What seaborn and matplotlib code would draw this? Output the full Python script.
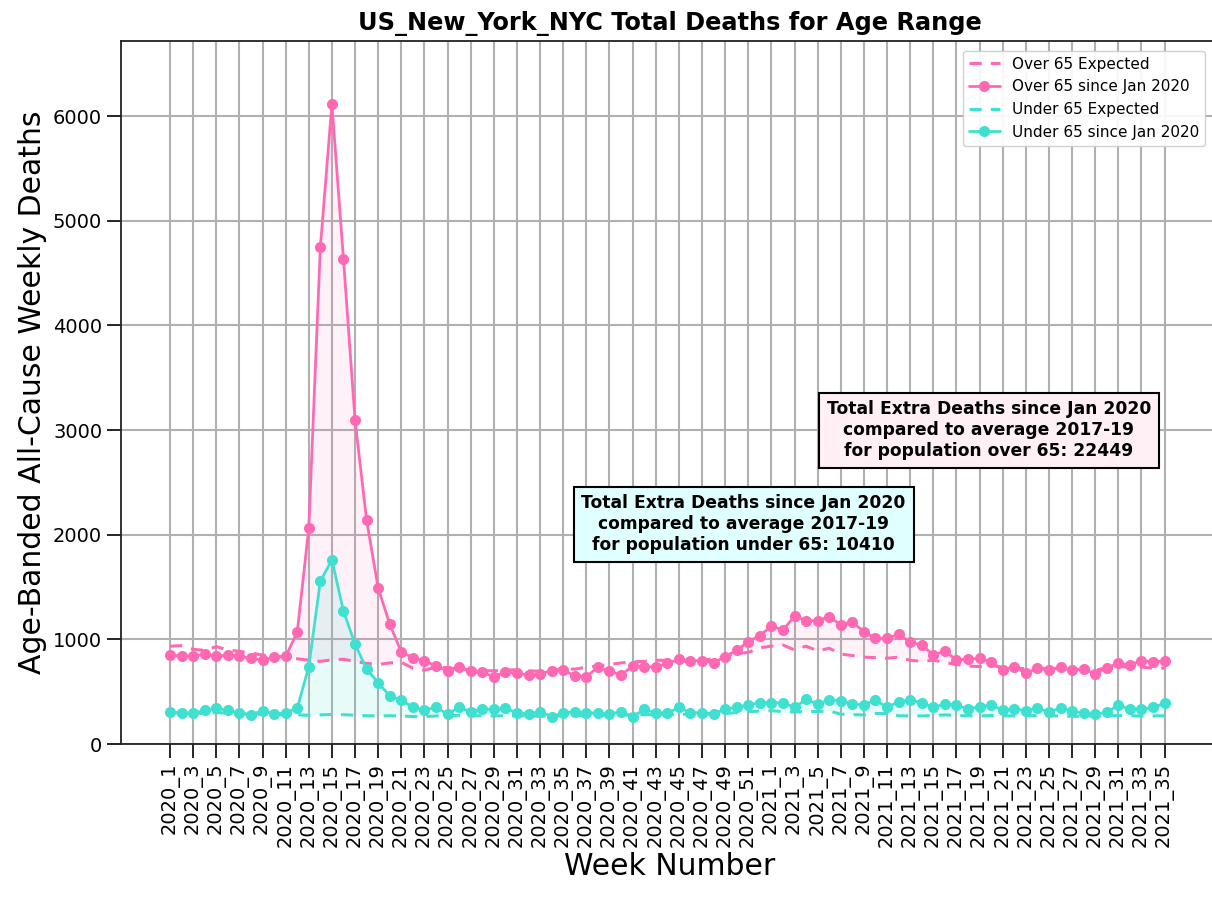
import numpy as np
import matplotlib
matplotlib.use('Agg')
import matplotlib.pyplot as plt
import seaborn as sns

# week labels: 2020 has 52 weeks here, then 2021 up to week 35
weeks = [f'2020_{w}' for w in range(1, 53)] + [f'2021_{w}' for w in range(1, 36)]

over65_actual = [
    850, 840, 837, 860, 837, 850, 840, 818, 800, 830, 837, 1067, 2064, 4748, 6115,
    4634, 3095, 2140, 1490, 1146, 879, 825, 793, 748, 697, 733, 697, 685, 643, 688,
    675, 659, 669, 701, 707, 653, 643, 733, 697, 659, 745, 739, 733, 770, 809,
    796, 796, 777, 834, 898, 977, 1035, 1127, 1089, 1223, 1178, 1178, 1216, 1140, 1166,
    1073, 1010, 1010, 1048, 975, 946, 850, 889, 803, 812, 818, 787, 707, 739, 675,
    723, 707, 739, 707, 717, 669, 729, 771, 755, 796, 787, 793]

over65_expected = [
    935, 940, 905, 895, 930, 900, 885, 870, 850, 840, 830, 815, 800, 790, 805,
    810, 790, 770, 760, 775, 780, 725, 705, 735, 730, 715, 710, 700, 700, 705,
    710, 700, 695, 705, 720, 715, 735, 745, 760, 775, 785, 790, 800, 800, 795,
    790, 800, 815, 840, 865, 875, 920, 935, 945, 900, 935, 890, 915, 860, 845,
    830, 825, 820, 830, 800, 790, 800, 780, 760, 745, 740, 755, 730, 725, 720,
    725, 720, 720, 715, 710, 705, 730, 740, 735, 735, 725, 725]

under65_actual = [
    309, 296, 295, 322, 341, 322, 296, 280, 320, 285, 301, 341, 739, 1557, 1758,
    1271, 955, 717, 586, 459, 420, 350, 325, 350, 287, 350, 309, 334, 331, 341,
    299, 287, 309, 261, 299, 309, 299, 293, 287, 309, 261, 331, 299, 293, 350,
    299, 299, 287, 334, 350, 373, 395, 395, 395, 350, 427, 382, 420, 414, 382,
    373, 420, 350, 404, 420, 395, 350, 382, 373, 334, 357, 373, 325, 334, 318,
    341, 309, 341, 318, 293, 287, 302, 373, 331, 334, 350, 389]

under65_expected = [
    300, 295, 290, 295, 300, 295, 290, 285, 285, 280, 280, 278, 275, 278, 282,
    280, 275, 270, 268, 270, 268, 262, 262, 268, 270, 275, 272, 270, 268, 272,
    270, 268, 265, 268, 270, 272, 270, 275, 272, 275, 278, 280, 282, 280, 285,
    283, 285, 288, 292, 300, 308, 315, 318, 310, 305, 312, 310, 315, 285, 280,
    278, 292, 290, 270, 268, 268, 272, 278, 272, 270, 268, 272, 270, 268, 270,
    272, 270, 268, 265, 265, 268, 270, 272, 270, 268, 268, 270]

extra_over65 = 22449
extra_under65 = 10410

PINK = '#ff69b4'
TEAL = '#40e0d0'

sns.set_style('ticks')
plt.rcParams['font.family'] = ['DejaVu Sans']
plt.rcParams.update({'text.color': 'black', 'axes.labelcolor': 'black',
                     'xtick.color': 'black', 'ytick.color': 'black'})

fig = plt.figure(figsize=(12.12, 8.99), dpi=100)
ax = fig.add_axes([0.0998, 0.1724, 0.905, 0.7816])

x = np.arange(len(weeks))
o_act, o_exp = np.array(over65_actual), np.array(over65_expected)
u_act, u_exp = np.array(under65_actual), np.array(under65_expected)

sns.lineplot(x=x, y=o_exp, ax=ax, color=PINK, linestyle=(0, (4, 3)), linewidth=2.2,
             label='Over 65 Expected')
sns.lineplot(x=x, y=o_act, ax=ax, color=PINK, marker='o', markersize=8,
             markeredgewidth=0, linewidth=2, label='Over 65 since Jan 2020')
sns.lineplot(x=x, y=u_exp, ax=ax, color=TEAL, linestyle=(0, (4, 3)), linewidth=2.2,
             label='Under 65 Expected')
sns.lineplot(x=x, y=u_act, ax=ax, color=TEAL, marker='o', markersize=8,
             markeredgewidth=0, linewidth=2, label='Under 65 since Jan 2020')

ax.fill_between(x, o_exp, o_act, where=o_act >= o_exp, interpolate=True,
                color=PINK, alpha=0.09, linewidth=0)
ax.fill_between(x, u_exp, u_act, where=u_act >= u_exp, interpolate=True,
                color=TEAL, alpha=0.12, linewidth=0)

ax.set_xticks(x[::2])
ax.set_xticklabels(weeks[::2], rotation=90)
ax.set_xlim(-4.24, 90.6)
ax.set_ylim(0, 6715)
ax.set_yticks(range(0, 7000, 1000))
ax.tick_params(axis='both', labelsize=14, length=10, width=1.2, color='black')
ax.grid(True, color='#b0b0b0', linewidth=1.5)
ax.set_axisbelow(True)
for s in ax.spines.values():
    s.set_linewidth(1.3)
    s.set_color('#222222')

ax.set_xlabel('Week Number', fontsize=21.5)
ax.set_ylabel('Age-Banded All-Cause Weekly Deaths', fontsize=21.5)
ax.set_title('US_New_York_NYC Total Deaths for Age Range', fontsize=17.3,
             fontweight='bold', pad=8)

ax.text(70.8, 3000,
        f'Total Extra Deaths since Jan 2020\ncompared to average 2017-19\n'
        f'for population over 65: {extra_over65}',
        ha='center', va='center', fontsize=12.3, fontweight='bold',
        bbox=dict(boxstyle='square,pad=0.45', facecolor='#fff0f5',
                  edgecolor='black', linewidth=1.5))
ax.text(49.6, 2100,
        f'Total Extra Deaths since Jan 2020\ncompared to average 2017-19\n'
        f'for population under 65: {extra_under65}',
        ha='center', va='center', fontsize=12.3, fontweight='bold',
        bbox=dict(boxstyle='square,pad=0.45', facecolor='#e0ffff',
                  edgecolor='black', linewidth=1.5))

ax.legend(loc='upper right', fontsize=11, framealpha=0.9, borderaxespad=0.6,
          bbox_to_anchor=(0.997, 1.0))

fig.savefig('out.png', dpi=100)
